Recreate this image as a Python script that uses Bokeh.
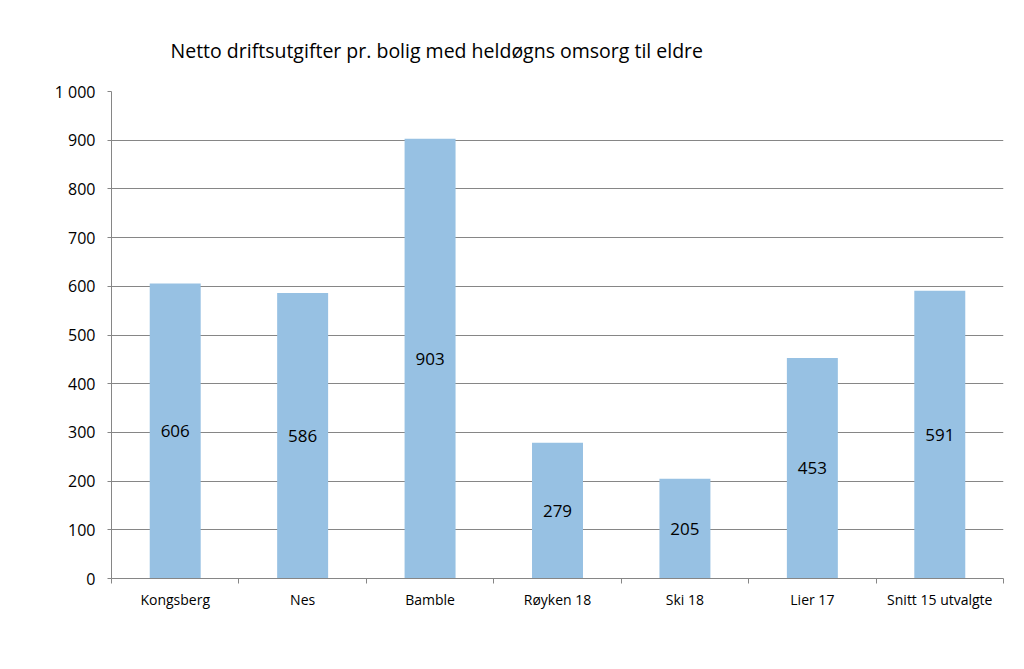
from bokeh.plotting import figure
from bokeh.models import LinearAxis, FixedTicker, Range1d, Title, ColumnDataSource
from bokeh.embed import file_html
from bokeh.resources import INLINE
from bokeh.core.properties import value

categories = ["Kongsberg", "Nes", "Bamble", "Røyken 18", "Ski 18", "Lier 17", "Snitt 15 utvalgte"]
values = [606, 586, 903, 279, 205, 453, 591]
y_ticks = [0, 100, 200, 300, 400, 500, 600, 700, 800, 900, 1000]
y_tick_labels = ["0", "100", "200", "300", "400", "500", "600", "700", "800", "900", "1 000"]
title_text = "Netto driftsutgifter pr. bolig med heldøgns omsorg til eldre"

FONT = "Open Sans"
n = len(categories)
xs = [i + 0.5 for i in range(n)]
bounds = list(range(n + 1))
src = ColumnDataSource(dict(x=xs, top=values, mid=[v / 2 for v in values],
                            lab=[str(v) for v in values]))

p = figure(width=1024, height=669, output_backend="svg", toolbar_location=None,
           x_range=Range1d(0, n), y_range=Range1d(0, 1000),
           min_border_left=111, min_border_right=21, min_border_top=91, min_border_bottom=91,
           x_axis_location=None, y_axis_location=None)
p.outline_line_color = None
p.background_fill_color = "white"
p.border_fill_color = "white"

# y axis
yax = LinearAxis(ticker=FixedTicker(ticks=y_ticks))
yax.major_label_overrides = {t: l for t, l in zip(y_ticks, y_tick_labels)}
yax.axis_line_color = "#868686"
yax.major_tick_line_color = "#868686"
yax.major_tick_out = 4
yax.major_tick_in = 0
yax.minor_tick_line_color = None
yax.major_label_text_font = FONT
yax.major_label_text_font_size = "16px"
yax.major_label_text_color = "black"
yax.major_label_standoff = 12
p.add_layout(yax, "left")

# x axis boundary ticks
xax = LinearAxis(ticker=FixedTicker(ticks=bounds))
xax.major_label_overrides = {b: "" for b in bounds}
xax.axis_line_color = "#868686"
xax.major_tick_line_color = "#868686"
xax.major_tick_out = 5
xax.major_tick_in = 0
xax.minor_tick_line_color = None
xax.major_label_text_font_size = "8px"
xax.major_label_standoff = 0
p.add_layout(xax, "below")

# x axis category labels
xlab = LinearAxis(ticker=FixedTicker(ticks=xs))
xlab.major_label_overrides = {x: c for x, c in zip(xs, categories)}
xlab.axis_line_color = None
xlab.major_tick_line_color = None
xlab.minor_tick_line_color = None
xlab.major_label_text_font = FONT
xlab.major_label_text_font_size = "14px"
xlab.major_label_text_color = "black"
xlab.major_label_standoff = 0
p.add_layout(xlab, "below")

p.xgrid.grid_line_color = None
p.ygrid.ticker = FixedTicker(ticks=y_ticks)
p.ygrid.grid_line_color = "#868686"
p.ygrid.grid_line_width = 1

p.vbar(x="x", top="top", width=0.4, bottom=0, source=src,
       fill_color="#97C1E3", line_color=None)
p.text(x="x", y="mid", text="lab", source=src, text_align="center",
       text_baseline="middle", text_font=value(FONT), text_font_size="17px",
       text_color="black")

t = Title(text=title_text, align="left", offset=59, text_font=FONT,
          text_font_size="19.5px", text_font_style="normal", text_color="black",
          standoff=56)
p.add_layout(t, "above")

open("out.html", "w").write(file_html(p, INLINE))
